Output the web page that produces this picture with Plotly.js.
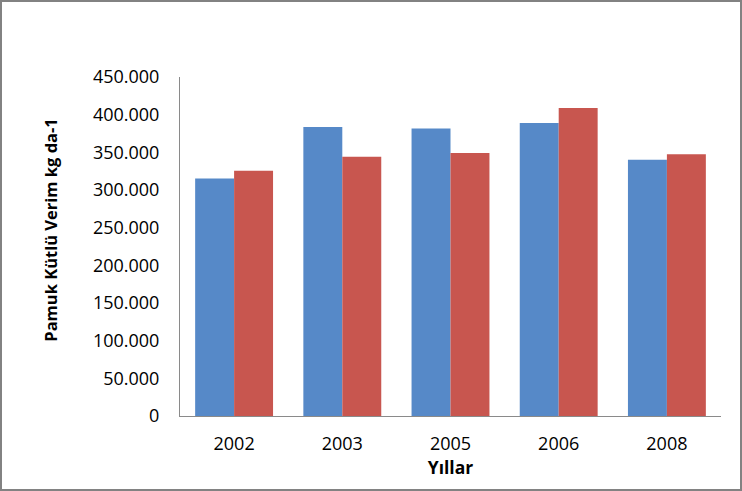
<!DOCTYPE html>
<html>
<head>
<meta charset="utf-8">
<script src="https://cdn.plot.ly/plotly-3.0.1.min.js"></script>
<style>
    body { margin: 0; background: #fff; }
    #chart { width: 742px; height: 491px; box-sizing: border-box; border: 2px solid #828282; }
</style>
</head>
<body>
<div id="chart"></div>
<script>
// Chart data
const years = ["2002", "2003", "2005", "2006", "2008"];
const series1 = [315.1, 383.7, 381.8, 389.0, 340.3];
const series2 = [325.7, 344.3, 349.2, 408.9, 347.3];
const tickValues = [0, 50, 100, 150, 200, 250, 300, 350, 400, 450];
const tickLabels = ["0", "50.000", "100.000", "150.000", "200.000", "250.000", "300.000", "350.000", "400.000", "450.000"];

const font = "'Open Sans', sans-serif";

let trace1 = {
    x: years,
    y: series1,
    type: 'bar',
    name: 'Seri 1',
    marker: { color: '#5689C8' }
};

let trace2 = {
    x: years,
    y: series2,
    type: 'bar',
    name: 'Seri 2',
    marker: { color: '#C8564F' }
};

let layout = {
    width: 738,
    height: 487,
    margin: { l: 178, r: 19, t: 75, b: 73 },
    paper_bgcolor: '#fff',
    plot_bgcolor: '#fff',
    font: { family: font, size: 18, color: '#000' },
    showlegend: false,
    barmode: 'group',
    bargap: 0.28,
    bargroupgap: 0,
    xaxis: {
        type: 'category',
        showline: true,
        linecolor: '#8a8a8a',
        linewidth: 1,
        ticks: 'outside',
        ticklen: 11,
        tickcolor: 'rgba(0,0,0,0)',
        tickfont: { family: font, size: 18, color: '#000' },
        title: {
            text: '<b>Yıllar</b>',
            font: { family: font, size: 17.5, color: '#000' },
            standoff: 6
        }
    },
    yaxis: {
        range: [0, 450],
        tickvals: tickValues,
        ticktext: tickLabels,
        showgrid: false,
        zeroline: false,
        showline: true,
        linecolor: '#8a8a8a',
        linewidth: 1,
        ticks: 'outside',
        ticklen: 16,
        tickcolor: 'rgba(0,0,0,0)',
        tickfont: { family: font, size: 18, color: '#000' }
    },
    annotations: [{
        text: '<b>Pamuk Kütlü Verim kg da-1</b>',
        xref: 'paper',
        yref: 'paper',
        x: -0.240,
        y: 0.550,
        xanchor: 'center',
        yanchor: 'middle',
        textangle: -90,
        showarrow: false,
        font: { family: font, size: 16.5, color: '#000' }
    }]
};

Plotly.newPlot('chart', [trace1, trace2], layout, { displayModeBar: false, staticPlot: true });
</script>
</body>
</html>
